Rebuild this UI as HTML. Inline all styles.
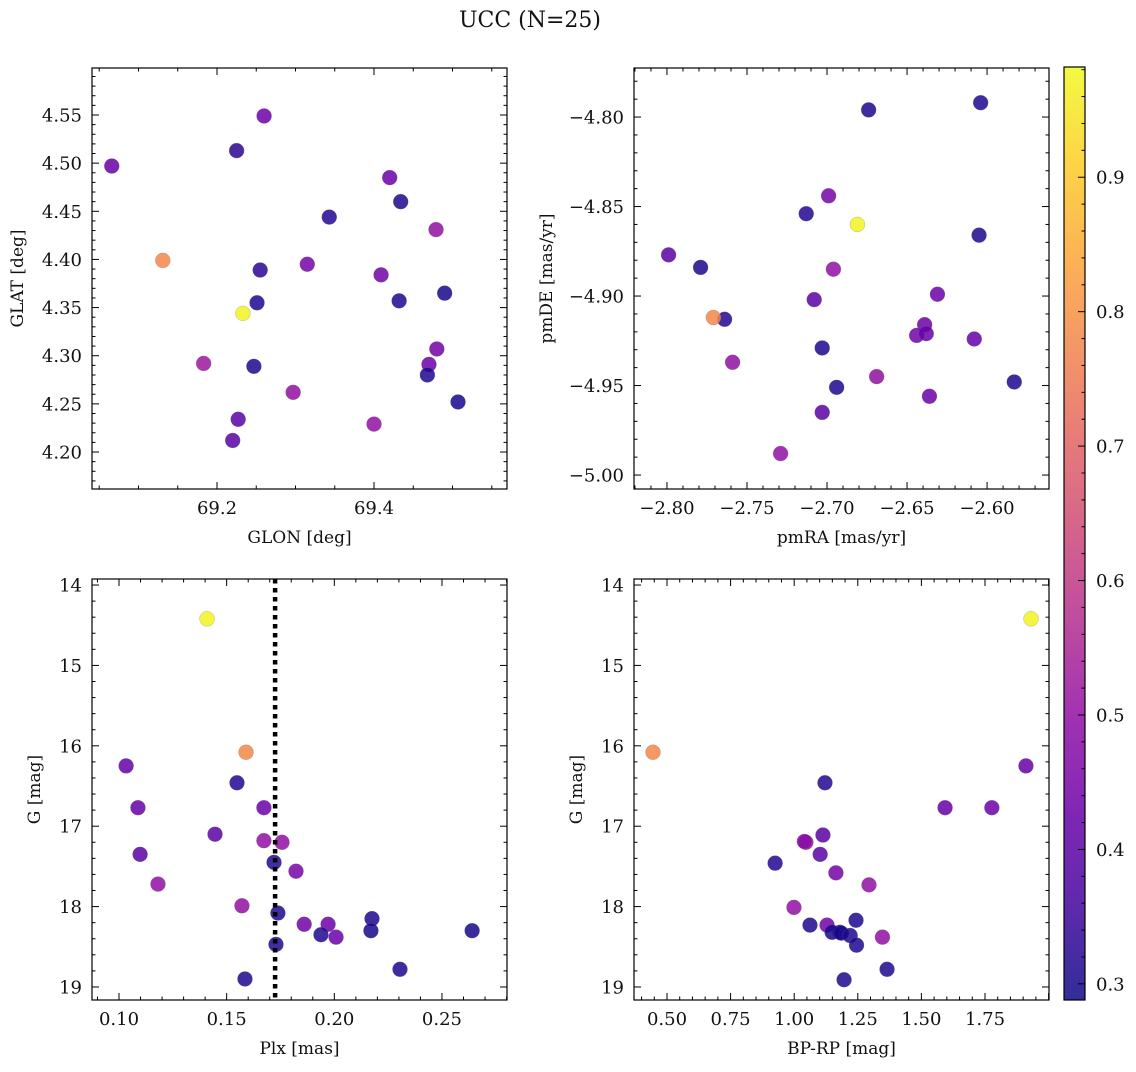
<!DOCTYPE html>
<html><head><meta charset="utf-8"><style>
body{margin:0;background:#fff;}
svg text{font-family:"DejaVu Serif","Liberation Serif",serif;fill:#111;}
</style></head><body>
<svg id="fig" width="1136" height="1067" viewBox="0 0 1136 1067" xmlns="http://www.w3.org/2000/svg">
<defs><linearGradient id="cbgrad" x1="0" y1="1" x2="0" y2="0"></linearGradient></defs>
<text x="530" y="27" font-size="22" text-anchor="middle">UCC (N=25)</text>
</svg>
<script>
// ---- data ----
const glon = [69.066,69.225,69.260,69.131,69.233,69.255,69.251,69.183,69.247,69.227,69.220,69.297,69.315,69.343,69.409,69.400,69.420,69.434,69.432,69.479,69.490,69.480,69.470,69.468,69.507];
const glat = [4.497,4.513,4.549,4.399,4.344,4.389,4.355,4.292,4.289,4.234,4.212,4.262,4.395,4.444,4.384,4.229,4.485,4.460,4.357,4.431,4.365,4.307,4.291,4.280,4.252];
const probTL = [0.42,0.33,0.43,0.78,0.97,0.33,0.31,0.52,0.31,0.40,0.40,0.50,0.45,0.32,0.44,0.50,0.43,0.31,0.31,0.50,0.30,0.44,0.43,0.31,0.30];

const pmra = [-2.799,-2.779,-2.764,-2.771,-2.759,-2.729,-2.713,-2.699,-2.681,-2.696,-2.708,-2.703,-2.694,-2.703,-2.674,-2.669,-2.631,-2.639,-2.644,-2.638,-2.636,-2.608,-2.605,-2.604,-2.583];
const pmde = [-4.877,-4.884,-4.913,-4.912,-4.937,-4.988,-4.854,-4.844,-4.860,-4.885,-4.902,-4.929,-4.951,-4.965,-4.796,-4.945,-4.899,-4.916,-4.922,-4.921,-4.956,-4.924,-4.866,-4.792,-4.948];
const probTR = [0.40,0.31,0.32,0.78,0.50,0.50,0.32,0.45,0.97,0.50,0.40,0.31,0.31,0.40,0.31,0.50,0.43,0.43,0.44,0.42,0.43,0.42,0.31,0.31,0.31];

const plx = [0.1409,0.159,0.1033,0.1548,0.1088,0.1673,0.1446,0.1673,0.1757,0.1098,0.172,0.1822,0.1181,0.1571,0.1738,0.2175,0.186,0.1971,0.217,0.264,0.1938,0.2008,0.1729,0.2305,0.1585];
const gmagBL = [14.42,16.08,16.25,16.46,16.77,16.77,17.10,17.18,17.20,17.35,17.45,17.56,17.72,17.99,18.08,18.15,18.22,18.22,18.30,18.30,18.35,18.38,18.47,18.78,18.90];
const probBL = [0.97,0.78,0.42,0.32,0.42,0.43,0.40,0.50,0.50,0.40,0.32,0.45,0.50,0.50,0.31,0.31,0.44,0.43,0.30,0.30,0.31,0.43,0.31,0.31,0.31];
const plxCut = [0.1725];

const bprp = [1.931,0.445,1.911,1.121,1.593,1.777,1.113,1.046,1.040,1.102,0.925,1.164,1.294,0.999,1.180,1.243,1.062,1.129,1.149,1.185,1.220,1.347,1.245,1.365,1.196];
const gmagBR = [14.42,16.08,16.25,16.46,16.77,16.77,17.11,17.20,17.19,17.35,17.46,17.58,17.73,18.01,18.32,18.17,18.23,18.23,18.32,18.33,18.36,18.38,18.48,18.78,18.91];
const probBR = [0.97,0.78,0.42,0.32,0.42,0.43,0.40,0.50,0.48,0.40,0.32,0.45,0.50,0.50,0.31,0.31,0.31,0.44,0.30,0.30,0.31,0.50,0.31,0.31,0.31];

const cbTicks = [0.3,0.4,0.5,0.6,0.7,0.8,0.9];
const cbRange = [0.288,0.982];

// ---- helpers ----
const NS = "http://www.w3.org/2000/svg";
const svg = document.getElementById('fig');
function mk(tag, attrs, parent){const e=document.createElementNS(NS,tag);for(const k in attrs)e.setAttribute(k,attrs[k]);(parent||svg).appendChild(e);return e;}
const plasma=[[13,8,135],[65,4,157],[106,0,168],[143,13,164],[177,42,144],[204,71,120],[225,100,98],[242,132,75],[252,166,54],[252,206,37],[240,249,33]];
function cmap(v){let t=(v-cbRange[0])/(cbRange[1]-cbRange[0]);t=Math.max(0,Math.min(1,t))*10;const i=Math.min(9,Math.floor(t)),f=t-i;const a=plasma[i],b=plasma[i+1];return 'rgb('+a.map((c,k)=>Math.round(c+(b[k]-c)*f)).join(',')+')';}
function fmt(v,d){const s=v.toFixed(d);return s.replace('-','\u2212');}

function panel(name,box,xr,yr,xt,xd,xminor,yt,yd,yminor,xlab,ylab,xs,ys,ps,ylabX){
  const [L,T,R,B]=box;
  const sx=v=>L+(v-xr[0])/(xr[1]-xr[0])*(R-L);
  const sy=v=>B-(v-yr[0])/(yr[1]-yr[0])*(B-T);
  const g=mk('g',{});
  
  
  const clip=mk('clipPath',{id:'c'+name},g);mk('rect',{x:L,y:T,width:R-L,height:B-T},clip);
  const pts=mk('g',{'clip-path':'url(#c'+name+')'},g);
  
  
  for(let i=0;i<xs.length;i++){
    const c=mk('circle',{cx:sx(xs[i]),cy:sy(ys[i]),r:7.5,fill:cmap(ps[i]),'fill-opacity':0.85,stroke:'#777','stroke-width':0.4,'stroke-opacity':0.6},pts);
    
    
  }
  const tk=mk('g',{stroke:'#000','stroke-width':1},g);
  const xstep=xt[1]-xt[0], ystep=yt[1]-yt[0];
  for(let v=xt[0]-xstep*3; v<=xt[xt.length-1]+xstep*3; v+=xstep/xminor){
    if(v<Math.min(xr[0],xr[1])-1e-9||v>Math.max(xr[0],xr[1])+1e-9) continue;
    const major=Math.abs((v-xt[0])/xstep-Math.round((v-xt[0])/xstep))<1e-6;const len=major?7:3.5;const x=sx(v);
    mk('line',{x1:x,x2:x,y1:B,y2:B-len},tk);mk('line',{x1:x,x2:x,y1:T,y2:T+len},tk);
  }
  const ylo=Math.min(yr[0],yr[1]),yhi=Math.max(yr[0],yr[1]);
  for(let v=yt[0]-Math.abs(ystep)*6; v<=yhi+Math.abs(ystep); v+=Math.abs(ystep)/yminor){
    if(v<ylo-1e-9||v>yhi+1e-9) continue;
    const q=(v-yt[0])/ystep;const major=Math.abs(q-Math.round(q))<1e-6;const len=major?7:3.5;const y=sy(v);
    mk('line',{x1:L,x2:L+len,y1:y,y2:y},tk);mk('line',{x1:R,x2:R-len,y1:y,y2:y},tk);
  }
  mk('rect',{x:L,y:T,width:R-L,height:B-T,fill:'none',stroke:'#000','stroke-width':1.2},g);
  xt.forEach(v=>{const t=mk('text',{x:sx(v),y:B+25,'font-size':18,'text-anchor':'middle'},g);t.textContent=fmt(v,xd);
    
    });
  yt.forEach(v=>{const t=mk('text',{x:L-10,y:sy(v)+6.5,'font-size':18,'text-anchor':'end'},g);t.textContent=fmt(v,yd);
    
    });
  const xl=mk('text',{x:(L+R)/2,y:B+54,'font-size':17,'text-anchor':'middle'},g);xl.textContent=xlab;
  
  
  const yl=mk('text',{x:ylabX,y:(T+B)/2,'font-size':17,'text-anchor':'middle',transform:'rotate(-90 '+ylabX+' '+(T+B)/2+')'},g);yl.textContent=ylab;
  
  
  return {sx,sy,g};
}

panel('glon-glat-panel',[92,68,507,489],[69.0408,69.5694],[4.1616,4.5988],[69.2,69.4],1,4,[4.20,4.25,4.30,4.35,4.40,4.45,4.50,4.55],2,5,'GLON [deg]','GLAT [deg]',glon,glat,probTL,23);
panel('pm-panel',[634,68,1049,489],[-2.8206,-2.5613],[-5.0078,-4.7726],[-2.80,-2.75,-2.70,-2.65,-2.60],2,5,[-5.00,-4.95,-4.90,-4.85,-4.80],2,5,'pmRA [mas/yr]','pmDE [mas/yr]',pmra,pmde,probTR,552);
const bl=panel('plx-g-panel',[92,579,507,1000],[0.08746,0.2802],[19.162,13.925],[0.10,0.15,0.20,0.25],2,5,[14,15,16,17,18,19],0,5,'Plx [mas]','G [mag]',plx,gmagBL,probBL,40);
panel('cmd-panel',[634,579,1049,1000],[0.3703,2.0016],[19.162,13.925],[0.50,0.75,1.00,1.25,1.50,1.75],2,5,[14,15,16,17,18,19],0,5,'BP-RP [mag]','G [mag]',bprp,gmagBR,probBR,582);

const dl=mk('line',{x1:bl.sx(plxCut[0]),x2:bl.sx(plxCut[0]),y1:579,y2:1000,stroke:'#000','stroke-width':4.5,'stroke-dasharray':'4.5 4.5'});



const grad=document.getElementById('cbgrad');
for(let i=0;i<=20;i++){const v=cbRange[0]+(cbRange[1]-cbRange[0])*i/20;mk('stop',{offset:(i*5)+'%','stop-color':cmap(v),'stop-opacity':0.85},grad);}
const cbT=67,cbB=1000,cbL=1064,cbR=1085;
const cy=v=>cbB-(v-cbRange[0])/(cbRange[1]-cbRange[0])*(cbB-cbT);
const cb=mk('rect',{x:cbL,y:cbT,width:cbR-cbL,height:cbB-cbT,fill:'url(#cbgrad)',stroke:'#000','stroke-width':1.2});


for(let v=0.30;v<=cbRange[1];v+=0.02){const y=cy(v);const q=v*10;const major=Math.abs(q-Math.round(q))<1e-6;mk('line',{x1:cbR,x2:cbR-(major?7:3.5),y1:y,y2:y,stroke:'#000','stroke-width':1});}
cbTicks.forEach(v=>{const t=mk('text',{x:1096,y:cy(v)+6.5,'font-size':18});t.textContent=v.toFixed(1);
  
  });
</script>
</body></html>
